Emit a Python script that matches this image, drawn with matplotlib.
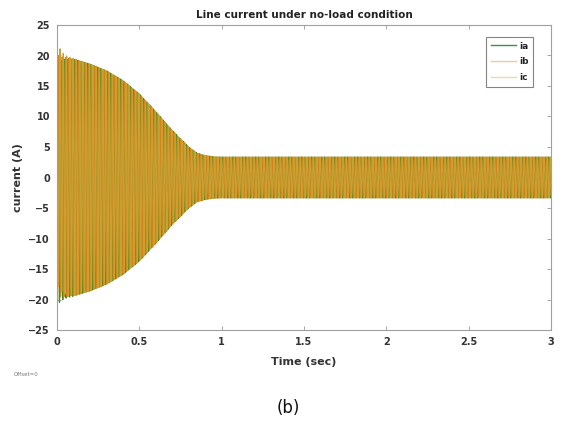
import numpy as np
import matplotlib
matplotlib.use("Agg")
import matplotlib.pyplot as plt
from matplotlib.lines import Line2D

# Envelope of the line-current amplitude (A)
env_time = [0.0, 0.1, 0.2, 0.3, 0.4, 0.5, 0.6, 0.7, 0.8, 0.85, 0.9, 0.95, 1.0, 1.5, 2.0, 2.5, 3.0]
env_amp = [19.8, 19.4, 18.6, 17.5, 15.9, 13.7, 10.8, 7.7, 5.0, 4.0, 3.6, 3.4, 3.35, 3.35, 3.35, 3.35, 3.35]
# start-up offsets of each phase (A), die out within the first cycles
start_offset = [-1.2, 0.3, 2.5]
offset_decay_s = 0.03
supply_freq = 50.0  # Hz
phase_names = ["ia", "ib", "ic"]
phase_shift_deg = [0, -120, 120]
phase_colors = ["#3f8a22", "#cf841c", "#caa032"]
legend_colors = ["#3f8f3f", "#f3c6a6", "#f2d6bc"]

x_ticks = [0, 0.5, 1, 1.5, 2, 2.5, 3]
x_tick_labels = ["0", "0.5", "1", "1.5", "2", "2.5", "3"]
y_ticks = [-25, -20, -15, -10, -5, 0, 5, 10, 15, 20, 25]

t = np.linspace(0, 3, 30001)
amp = np.interp(t, env_time, env_amp)

W, H = 563, 423
fig = plt.figure(figsize=(W / 100, H / 100), dpi=100)
ax = fig.add_axes([57 / W, 1 - 330 / H, (551 - 57) / W, (330 - 25) / H])

for name, sh, col, off in zip(phase_names, phase_shift_deg, phase_colors, start_offset):
    y = amp * np.sin(2 * np.pi * supply_freq * t + np.deg2rad(sh)) + off * np.exp(-t / offset_decay_s)
    ax.plot(t, y, color=col, lw=0.9)

ax.set_xlim(0, 3)
ax.set_ylim(-25, 25)
ax.set_xticks(x_ticks)
ax.set_xticklabels(x_tick_labels)
ax.set_yticks(y_ticks)
ax.tick_params(direction="in", length=3, width=0.6, colors="#999999",
               labelcolor="#333333", labelsize=7, top=True, right=True, pad=5)
for lab in ax.get_xticklabels() + ax.get_yticklabels():
    lab.set_fontweight("bold")
for s in ax.spines.values():
    s.set_color("#a0a0a0")
    s.set_linewidth(0.8)

ax.set_title("Line current under no-load condition", fontsize=7.5,
             fontweight="bold", color="#222222", pad=5)
ax.set_xlabel("Time (sec)", fontsize=8, fontweight="bold", color="#333333", labelpad=7)
ax.set_ylabel("current (A)", fontsize=8, fontweight="bold", color="#333333", labelpad=4)

handles = [Line2D([], [], color=c, lw=1.0) for c in legend_colors]
leg = ax.legend(handles, phase_names, loc="upper right", fontsize=6.5, frameon=True,
                fancybox=False, edgecolor="#666666", handlelength=2.8, borderpad=0.5,
                labelspacing=0.75, handletextpad=0.3, borderaxespad=0,
                bbox_to_anchor=(533 / W, 1 - 37 / H), bbox_transform=fig.transFigure)
for txt in leg.get_texts():
    txt.set_fontweight("bold")
    txt.set_color("#222222")
leg.get_frame().set_linewidth(0.8)

fig.text(14 / W, 1 - 374 / H, "Offset=0", fontsize=4, color="#777777",
         ha="left", va="center")
fig.text(288 / W, 1 - 408 / H, "(b)", fontsize=12, color="#111111",
         ha="center", va="center")

fig.savefig("out.png", dpi=100)
